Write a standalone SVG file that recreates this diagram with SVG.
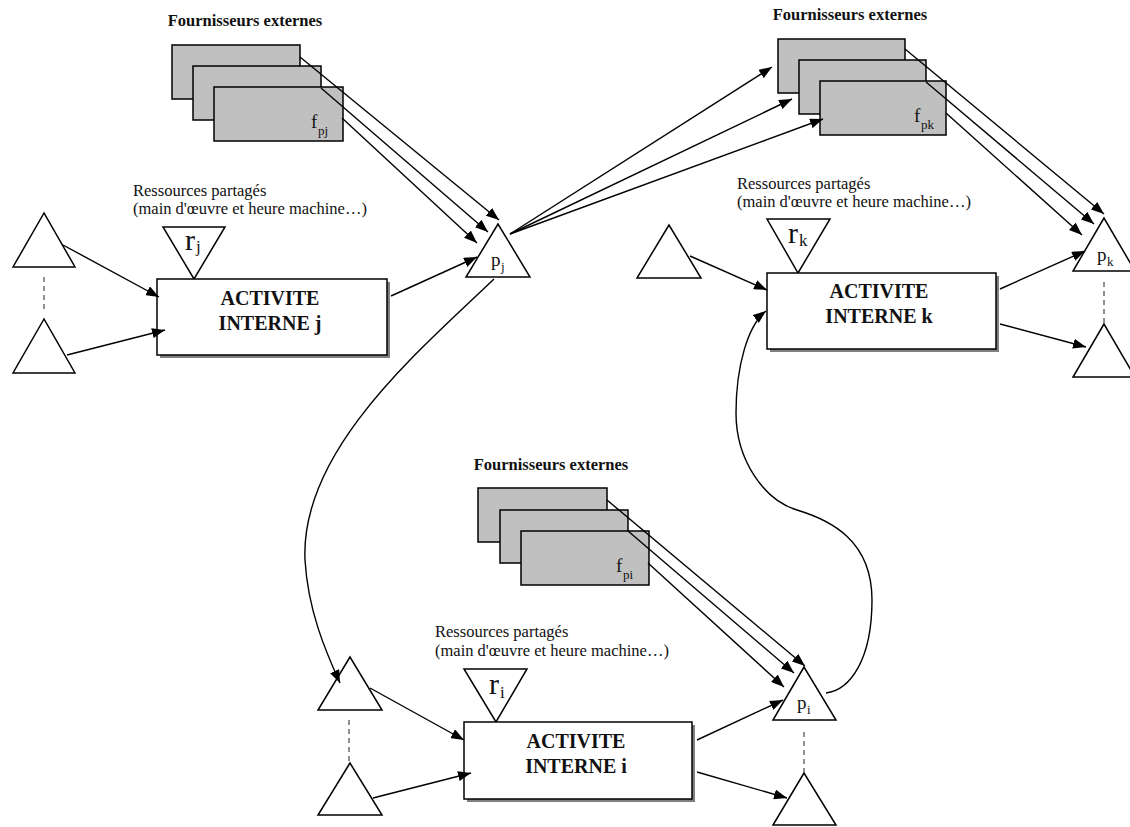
<svg xmlns="http://www.w3.org/2000/svg" width="1130" height="827" viewBox="0 0 1130 827">
<defs>
<style>
.sup{fill:#c0c0c0;stroke:#000;stroke-width:1.5}
.tri{fill:#fff;stroke:#000;stroke-width:1.5;stroke-linejoin:miter}
.box{fill:#fff;stroke:#000;stroke-width:1.5}
.shd{fill:#808080}
.dash{stroke:#555;stroke-width:1.3;stroke-dasharray:5 4;fill:none}
.c{stroke:#000;stroke-width:1.4;fill:none;marker-end:url(#ah)}
text{font-family:"Liberation Serif","Times New Roman",serif;fill:#111}
.ttl{font-size:16.5px;font-weight:bold;text-anchor:middle}
.res{font-size:16.5px}
.act{font-size:20px;font-weight:bold;text-anchor:middle}
.big{font-size:30px}
.lbl{font-size:19px}
.sub{font-size:13px}
.subr{font-size:17px}
</style>
<marker id="ah" viewBox="0 0 13 10" refX="13" refY="5" markerWidth="13" markerHeight="10" markerUnits="userSpaceOnUse" orient="auto"><path d="M0,0 L13,5 L0,10 z" fill="#000"/></marker>
</defs>
<rect width="1130" height="827" fill="#fff"/>

<!-- ===== Activity j ===== -->
<g id="sup-j">
<text class="ttl" x="245" y="26">Fournisseurs externes</text>
<rect class="sup" x="172" y="45" width="128" height="54"/>
<rect class="sup" x="193" y="66" width="128" height="54"/>
<rect class="sup" x="214" y="87" width="129" height="54"/>
<text class="lbl" x="311" y="128">f</text><text class="sub" x="318" y="135">pj</text>
</g>
<g id="in-j1"><polygon class="tri" points="44,213 13,267 75,267"/></g>
<g id="in-j2"><polygon class="tri" points="44,319 13,373 75,373"/></g>
<line class="dash" x1="44" y1="277" x2="44" y2="311"/>
<g id="res-j">
<text class="res" x="133" y="196">Ressources partagés</text>
<text class="res" x="133" y="214">(main d'œuvre et heure machine…)</text>
<polygon class="tri" points="163,227 225,227 194,279"/>
<text class="big" x="185" y="250">r</text><text class="subr" x="196" y="252">j</text>
</g>
<g id="act-j">
<rect class="shd" x="160" y="282" width="230" height="76"/>
<rect class="box" x="157" y="279" width="230" height="76"/>
<text class="act" x="270" y="305">ACTIVITE</text>
<text class="act" x="270" y="330">INTERNE j</text>
</g>
<g id="p-j">
<polygon class="tri" points="498,224 466,277 530,277"/>
<text class="lbl" x="491" y="266">p</text><text class="sub" x="501" y="271">j</text>
</g>

<!-- ===== Activity k ===== -->
<g id="sup-k">
<text class="ttl" x="850" y="20">Fournisseurs externes</text>
<rect class="sup" x="778" y="39" width="127" height="54"/>
<rect class="sup" x="799" y="60" width="127" height="54"/>
<rect class="sup" x="820" y="81" width="126" height="54"/>
<text class="lbl" x="914" y="122">f</text><text class="sub" x="921" y="129">pk</text>
</g>
<g id="in-k1"><polygon class="tri" points="669,225 637,278 701,278"/></g>
<g id="res-k">
<text class="res" x="737" y="189">Ressources partagés</text>
<text class="res" x="737" y="207">(main d'œuvre et heure machine…)</text>
<polygon class="tri" points="767,219 830,219 798,273"/>
<text class="big" x="788" y="243">r</text><text class="subr" x="799" y="246">k</text>
</g>
<g id="act-k">
<rect class="shd" x="770" y="276" width="229" height="76"/>
<rect class="box" x="767" y="273" width="229" height="76"/>
<text class="act" x="879" y="298">ACTIVITE</text>
<text class="act" x="879" y="323">INTERNE k</text>
</g>
<g id="p-k">
<polygon class="tri" points="1104,218 1073,271 1135,271"/>
<text class="lbl" x="1097" y="261">p</text><text class="sub" x="1107" y="266">k</text>
</g>
<line class="dash" x1="1104" y1="282" x2="1104" y2="323"/>
<g id="out-k2"><polygon class="tri" points="1104,324 1073,377 1135,377"/></g>

<!-- ===== Activity i ===== -->
<g id="sup-i">
<text class="ttl" x="551" y="470">Fournisseurs externes</text>
<rect class="sup" x="478" y="488" width="129" height="54"/>
<rect class="sup" x="500" y="510" width="128" height="53"/>
<rect class="sup" x="521" y="531" width="128" height="54"/>
<text class="lbl" x="616" y="572">f</text><text class="sub" x="623" y="579">pi</text>
</g>
<g id="in-i1"><polygon class="tri" points="350,657 318,710 382,710"/></g>
<g id="in-i2"><polygon class="tri" points="350,763 318,815 382,815"/></g>
<line class="dash" x1="349" y1="720" x2="349" y2="762"/>
<g id="res-i">
<text class="res" x="435" y="637">Ressources partagés</text>
<text class="res" x="435" y="656">(main d'œuvre et heure machine…)</text>
<polygon class="tri" points="464,669 527,669 496,722"/>
<text class="big" x="489" y="694">r</text><text class="subr" x="500" y="698">i</text>
</g>
<g id="act-i">
<rect class="shd" x="467" y="725" width="228" height="77"/>
<rect class="box" x="464" y="722" width="228" height="77"/>
<text class="act" x="576" y="748">ACTIVITE</text>
<text class="act" x="576" y="773">INTERNE i</text>
</g>
<g id="p-i">
<polygon class="tri" points="804,667 773,720 836,720"/>
<text class="lbl" x="797" y="709">p</text><text class="sub" x="807" y="714">i</text>
</g>
<line class="dash" x1="804" y1="732" x2="804" y2="772"/>
<g id="out-i2"><polygon class="tri" points="804,773 773,825 836,825"/></g>

<!-- ===== Connectors ===== -->
<g id="connectors">
<line class="c" x1="63" y1="245" x2="159" y2="297"/>
<line class="c" x1="67" y1="355" x2="165" y2="330"/>
<line class="c" x1="391" y1="296" x2="477" y2="257"/>
<line class="c" x1="300" y1="57" x2="499" y2="220"/>
<line class="c" x1="321" y1="88" x2="488" y2="232"/>
<line class="c" x1="342" y1="118" x2="477" y2="243"/>
<line class="c" x1="510" y1="234" x2="772" y2="67"/>
<line class="c" x1="510" y1="234" x2="792" y2="99"/>
<line class="c" x1="510" y1="234" x2="823" y2="119"/>
<path class="c" d="M494,279 C420,350 300,450 305,560 C308,610 325,650 340,683"/>

<line class="c" x1="690" y1="256" x2="767" y2="290"/>
<line class="c" x1="1000" y1="289" x2="1085" y2="251"/>
<line class="c" x1="1000" y1="324" x2="1086" y2="347"/>
<line class="c" x1="905" y1="49" x2="1104" y2="214"/>
<line class="c" x1="926" y1="82" x2="1094" y2="224"/>
<line class="c" x1="946" y1="113" x2="1082" y2="235"/>

<line class="c" x1="370" y1="688" x2="464" y2="740"/>
<line class="c" x1="373" y1="798" x2="471" y2="773"/>
<line class="c" x1="697" y1="740" x2="783" y2="700"/>
<line class="c" x1="697" y1="772" x2="787" y2="798"/>
<line class="c" x1="607" y1="500" x2="805" y2="666"/>
<line class="c" x1="628" y1="531" x2="794" y2="673"/>
<line class="c" x1="648" y1="563" x2="784" y2="687"/>
<path class="c" d="M826,693 C850,690 872,660 872,600 C872,540 830,520 797,510 C764,500 736,460 736,413 C736,366 748,325 766,311"/>
</g>
</svg>
